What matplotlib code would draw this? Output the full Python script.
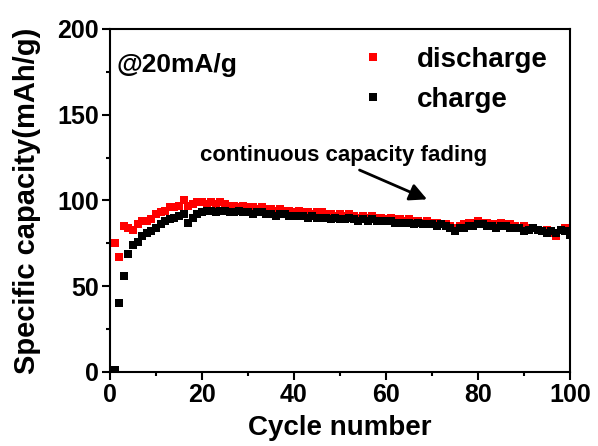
import numpy as np
import matplotlib
matplotlib.use('Agg')
import matplotlib.pyplot as plt
from matplotlib.ticker import MultipleLocator

plt.rcParams['font.family'] = 'Liberation Sans'
plt.rcParams['font.weight'] = 'bold'

cycles = np.arange(1, 101)

discharge = [
    75, 67, 85, 84, 83, 86, 88, 88, 89, 92,
    93, 94, 96, 96, 97, 100, 97, 98, 99, 99,
    98, 99, 98, 99, 98, 97, 97, 96, 97, 96,
    96, 95, 96, 95, 95, 94, 95, 94, 94, 93,
    94, 93, 93, 92, 93, 93, 92, 92, 91, 92,
    91, 92, 91, 90, 91, 90, 91, 90, 90, 89,
    90, 89, 89, 88, 89, 88, 88, 87, 88, 87,
    87, 86, 86, 85, 84, 85, 86, 87, 87, 88,
    87, 87, 86, 86, 87, 86, 86, 85, 84, 85,
    84, 84, 83, 82, 83, 81, 79, 83, 84, 82,
]

charge = [
    1, 40, 56, 69, 74, 76, 79, 81, 82, 84,
    86, 88, 89, 90, 91, 92, 87, 90, 92, 93,
    94, 94, 93, 94, 94, 93, 93, 94, 93, 93,
    92, 93, 93, 92, 92, 91, 92, 92, 91, 91,
    91, 91, 90, 91, 90, 90, 90, 89, 90, 89,
    89, 90, 89, 88, 89, 88, 89, 88, 88, 88,
    88, 87, 87, 87, 87, 86, 87, 86, 86, 86,
    85, 86, 85, 84, 82, 84, 84, 85, 85, 86,
    86, 85, 85, 84, 85, 85, 84, 84, 84, 82,
    83, 84, 83, 82, 81, 82, 81, 83, 82, 80,
]

fig = plt.figure(figsize=(5.98, 4.46), dpi=100)
ax = fig.add_axes([0.184, 0.166, 0.769, 0.769])

ax.plot(cycles, discharge, 's', color='#ff0000', markersize=5.5,
        markeredgewidth=0, label='discharge')
ax.plot(cycles, charge, 's', color='black', markersize=5.5,
        markeredgewidth=0, label='charge')

ax.set_xlim(0, 100)
ax.set_ylim(0, 200)
ax.xaxis.set_major_locator(MultipleLocator(20))
ax.xaxis.set_minor_locator(MultipleLocator(10))
ax.yaxis.set_major_locator(MultipleLocator(50))
ax.yaxis.set_minor_locator(MultipleLocator(25))
ax.tick_params(which='major', length=6, width=1.5, labelsize=18, pad=2)
ax.tick_params(which='minor', length=3, width=1.5)
for s in ax.spines.values():
    s.set_linewidth(1.5)

ax.set_xlabel('Cycle number', fontsize=20, fontweight='bold', labelpad=6)
ax.set_ylabel('Specific capacity(mAh/g)', fontsize=21, fontweight='bold', labelpad=12)

ax.text(1.5, 179, '@20mA/g', fontsize=19, fontweight='bold', va='center', ha='left')
ax.text(50.8, 126.5, 'continuous capacity fading', fontsize=16,
        fontweight='bold', ha='center', va='center')
ax.annotate('', xy=(69.5, 100.0), xytext=(53.7, 118.4),
            arrowprops=dict(arrowstyle='-|>', color='black', lw=2,
                            mutation_scale=26))

leg = ax.legend(loc='upper left', bbox_to_anchor=(0.541, 0.947), frameon=False,
                fontsize=20, markerscale=1.0, handletextpad=1.08,
                handlelength=1.0, labelspacing=0.5, borderpad=0,
                borderaxespad=0)
for t in leg.get_texts():
    t.set_fontweight('bold')

fig.savefig('out.png', dpi=100)
